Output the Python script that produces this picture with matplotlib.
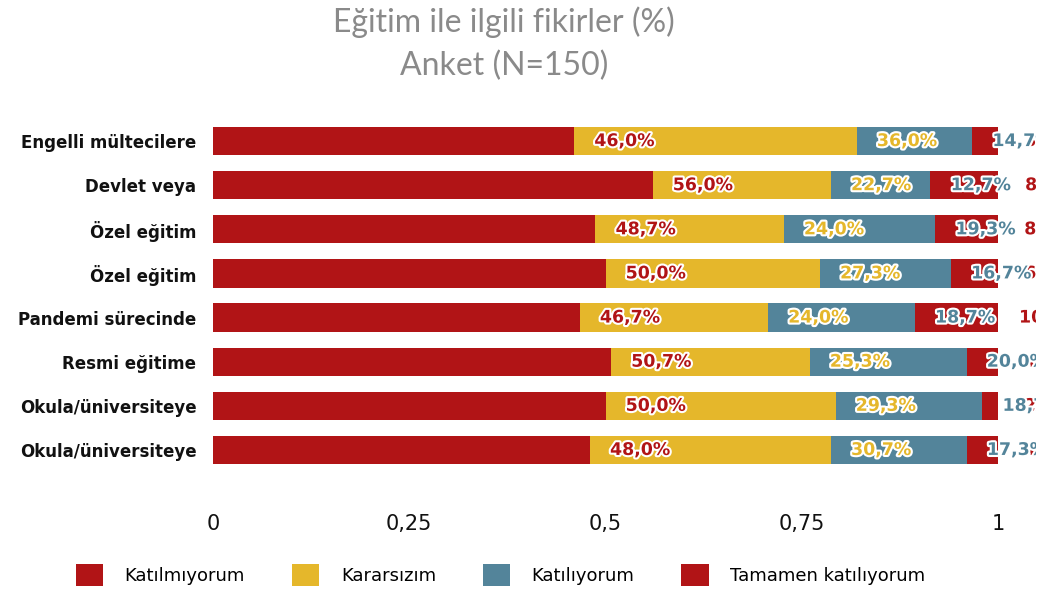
import numpy as np
import matplotlib.pyplot as plt
import matplotlib.patheffects as pe
from matplotlib.patches import Patch
from matplotlib.transforms import Bbox, TransformedBbox

plt.rcParams['font.family'] = ['DejaVu Sans']

categories = ["Engelli mültecilere", "Devlet veya", "Özel eğitim", "Özel eğitim",
              "Pandemi sürecinde", "Resmi eğitime", "Okula/üniversiteye", "Okula/üniversiteye"]
katilmiyorum = [46.0, 56.0, 48.7, 50.0, 46.7, 50.7, 50.0, 48.0]
kararsizim = [36.0, 22.7, 24.0, 27.3, 24.0, 25.3, 29.3, 30.7]
katiliyorum = [14.7, 12.7, 19.3, 16.7, 18.7, 20.0, 18.7, 17.3]
tamamen = [3.3, 8.7, 8.0, 6.0, 10.7, 4.0, 2.0, 4.0]
series_names = ["Katılmıyorum", "Kararsızım", "Katılıyorum", "Tamamen katılıyorum"]
colors = ['#B11416', '#E5B72B', '#53849A', '#B11416']

fig = plt.figure(figsize=(10.43, 5.94), dpi=100)
ax = fig.add_axes([213/1043, 1-472/594, 785/1043, 353/594])
# the original cuts the labels off a little before the right edge
clip = TransformedBbox(Bbox([[0, 0], [1036/1043, 1]]), fig.transFigure)

y = np.arange(len(categories))
left = np.zeros(len(categories))
for i, (vals, col) in enumerate(zip([katilmiyorum, kararsizim, katiliyorum, tamamen], colors)):
    frac = np.array(vals) / 100.0
    ax.barh(y, frac, left=left, height=0.64, color=col, edgecolor='none')
    # labels sit just past the end of their own segment (as in the original)
    for yi, l, f, v in zip(y, left, frac, vals):
        txt = ax.text(l + f + 0.064, yi, f"{v:.1f}%".replace('.', ','), ha='center', va='center',
                      color=col, fontsize=12.5, fontweight='bold', zorder=10 - i)
        txt.set_path_effects([pe.withStroke(linewidth=3, foreground='white')])
        txt.set_clip_box(clip)
        txt.set_clip_on(True)
    left = left + frac

ax.set_xlim(0, 1)
ax.set_ylim(len(categories) - 0.5, -0.5)
ax.set_yticks(y)
ax.set_yticklabels(categories, fontsize=12, fontweight='bold', color='#111111')
ax.set_xticks([0, 0.25, 0.5, 0.75, 1])
ax.set_xticklabels(["0", "0,25", "0,5", "0,75", "1"], fontsize=15, color='#111111')
ax.tick_params(axis='both', length=0)
ax.tick_params(axis='x', pad=30)
ax.tick_params(axis='y', pad=12)
for s in ax.spines.values():
    s.set_visible(False)

fig.text(0.483, 1-22/594, "Eğitim ile ilgili fikirler (%)", ha='center', va='center',
         fontsize=23, color='#8a8a8a', family='Lato')
fig.text(0.483, 1-66/594, "Anket (N=150)", ha='center', va='center',
         fontsize=23, color='#8a8a8a', family='Lato')

handles = [Patch(facecolor=c, edgecolor='none') for c in colors]
fig.legend(handles, series_names, loc='center', bbox_to_anchor=(0.48, 1-575/594), ncol=4,
           frameon=False, fontsize=13, handlelength=1.5, handleheight=1.5,
           columnspacing=2.6, handletextpad=1.2)

fig.savefig("out.png", dpi=100)
